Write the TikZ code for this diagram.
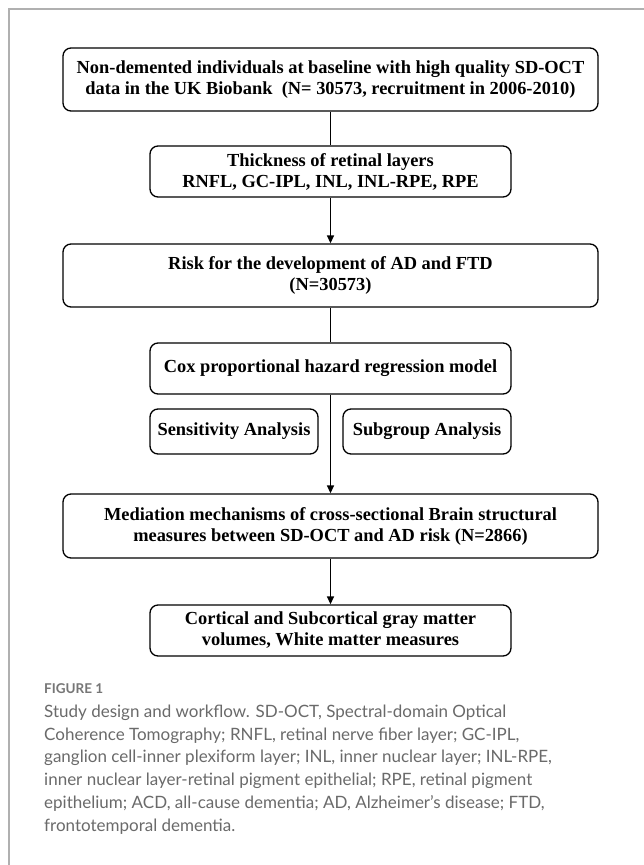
\documentclass[tikz,border=0pt]{standalone}
\usepackage{fontspec}
\setmainfont{Liberation Serif}
\newfontfamily\capfont{Lato}
\usetikzlibrary{arrows.meta}
\definecolor{framegray}{HTML}{B0B0B0}
\definecolor{capgray}{HTML}{6A6A6A}
\definecolor{figgray}{HTML}{767676}
\tikzset{
  box/.style={draw=black, line width=1.3pt, rounded corners=8pt, align=center,
    font=\bfseries\fontsize{18.4}{21}\selectfont, inner sep=0pt},
  conn/.style={line width=1.3pt},
  arr/.style={line width=1.3pt, -{Triangle[width=7pt,length=8pt]}},
  capline/.style={anchor=base west, inner sep=0pt, text=capgray,
    font=\capfont\fontsize{17}{23}\selectfont},
}
\begin{document}
\begin{tikzpicture}[x=1pt,y=-1pt]
\useasboundingbox (0,0) rectangle (644,865);
\fill[white] (0,0) rectangle (644,865);
% frame
\draw[framegray, line width=1.5pt] (9,870) -- (9,9) -- (650,9);
% boxes
\node[box, minimum width=535pt, minimum height=63pt] (b1) at (330.5,79.5)
  {Non-demented individuals at baseline with high quality SD-OCT\\data in the UK Biobank\ \ (N= 30573, recruitment in 2006-2010)};
\node[box, minimum width=361pt, minimum height=51pt] (b2) at (330.5,171.5)
  {Thickness of retinal layers\\RNFL, GC-IPL, INL, INL-RPE, RPE};
\node[box, minimum width=535pt, minimum height=63pt] (b3) at (330.5,275.5)
  {Risk for the development of AD and FTD\\(N=30573)};
\node[box, minimum width=361pt, minimum height=51pt] (b4) at (330.5,368.5)
  {Cox proportional hazard regression model};
\node[box, minimum width=168pt, minimum height=45pt] (sens) at (234,431.5)
  {Sensitivity Analysis};
\node[box, minimum width=168pt, minimum height=45pt] (subg) at (427,431.5)
  {Subgroup Analysis};
\node[box, minimum width=535pt, minimum height=64pt] (b5) at (330.5,526)
  {Mediation mechanisms of cross-sectional Brain structural\\measures between SD-OCT and AD risk (N=2866)};
\node[box, minimum width=361pt, minimum height=51pt] (b6) at (330.5,630.5)
  {Cortical and Subcortical gray matter\\volumes, White matter measures};
% connectors
\draw[conn] (b1.south) -- (b2.north);
\draw[arr] (b2.south) -- (b3.north);
\draw[conn] (b3.south) -- (b4.north);
\draw[arr] (b4.south) -- (b5.north);
\draw[arr] (b5.south) -- (b6.north);
% caption
\node[anchor=base west, inner sep=0pt, text=figgray, font=\capfont\bfseries\fontsize{13.5}{16}\selectfont] (fig) at (44,693.5) {FIGURE 1};
\node[capline] (c1) at (44,717.5) {Study design and workflow. SD-OCT, Spectral-domain Optical};
\node[capline] (c2) at (44,740.2) {Coherence Tomography; RNFL, retinal nerve fiber layer; GC-IPL,};
\node[capline] (c3) at (44,762.9) {ganglion cell-inner plexiform layer; INL, inner nuclear layer; INL-RPE,};
\node[capline] (c4) at (44,785.6) {inner nuclear layer-retinal pigment epithelial; RPE, retinal pigment};
\node[capline] (c5) at (44,808.3) {epithelium; ACD, all-cause dementia; AD, Alzheimer’s disease; FTD,};
\node[capline] (c6) at (44,831) {frontotemporal dementia.};
\end{tikzpicture}
\end{document}
